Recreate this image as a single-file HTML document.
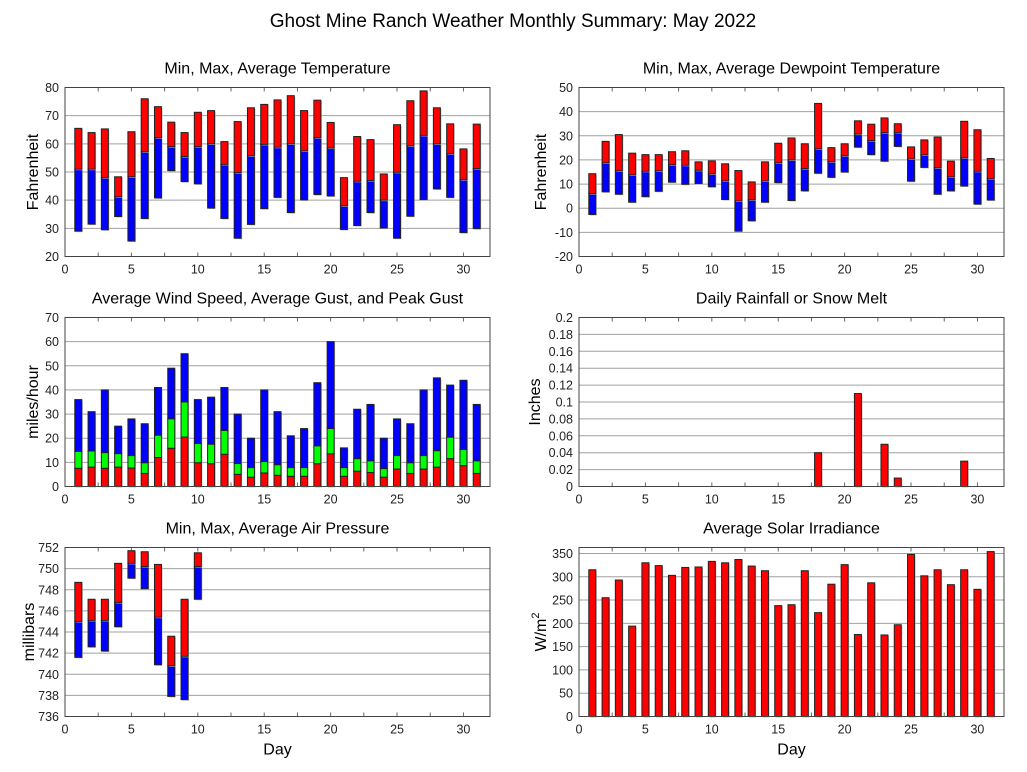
<!DOCTYPE html>
<html><head><meta charset="utf-8"><style>
body{margin:0;background:#fff;}
svg{display:block;font-family:"Liberation Sans",sans-serif;}
</style></head><body>
<svg id="c" width="1027" height="772" viewBox="0 0 1027 772">
<text x="513" y="27" font-size="19" text-anchor="middle">Ghost Mine Ranch Weather Monthly Summary: May 2022</text>
</svg>
<script>
const days = Array.from({length:31},(_,i)=>i+1);
const tempMax=[65.5,64,65.3,48.3,64.3,76,73.2,67.7,64,71.2,71.8,60.8,67.9,72.8,74,75.6,77.1,71.8,75.5,67.6,48,62.6,61.5,49.3,66.8,75.3,78.8,72.8,67.1,58.2,67];
const tempAvg=[51,51,48,41.2,48.3,57.2,62.2,59,55.5,59,60,52.7,49.8,55.8,59.8,58.8,60,57.5,62.2,58.5,38,46.7,47,40,49.9,59.3,63,60,56.5,47.3,51.2];
const tempMin=[29,31.5,29.5,34.2,25.5,33.5,40.8,50.5,46.6,45.8,37.2,33.5,26.5,31.4,37,41,35.6,40.1,42,41.5,29.6,31,35.6,30.1,26.5,34.3,40.2,44,41,28.5,29.9];
const dewMax=[14.3,27.7,30.5,22.8,22.2,22.2,23.4,23.8,19.2,19.6,18.4,15.6,10.9,19.2,26.9,29.1,26.7,43.4,25.1,26.7,36.2,34.8,37.4,35,25.4,28.3,29.5,19.5,36,32.5,20.6];
const dewAvg=[6,18.8,15.5,13.8,15.3,15.5,18,17.8,15.7,14.2,11.3,3,3.5,11.3,18.8,20,16.4,24.6,19.3,21.8,30.7,28,31.3,31.4,20.4,22.1,16.8,13,20.9,15.3,12.2];
const dewMin=[-2.6,6.8,5.8,2.5,4.8,7,10.8,9.9,10.2,8.9,3.6,-9.5,-5.2,2.5,10.6,3.2,7.2,14.5,12.8,15,25.3,22.2,19.5,25.6,11.2,16.9,5.8,7.2,9.2,1.7,3.4];
const peakGust=[36,31,40,25,28,26,41,49,55,36,37,41,30,20,40,31,21,24,43,60,16,32,34,20,28,26,40,45,42,44,34];
const avgGust=[14.5,14.7,14,13.6,12.8,9.8,21.2,28,35,17.8,17.5,23.2,9.5,7.8,10.3,9,7.8,7.8,16.8,24,7.8,11.5,10.6,7.4,12.8,9.8,12.8,14.8,20.4,15.3,10.6];
const avgWind=[7.5,8,7.5,8,7.6,5.4,12,15.8,20.5,9.8,9.4,13.3,5,3.8,5.6,4.6,4.2,4.2,9.4,13.5,4.2,6.3,5.8,3.8,7.2,5.4,7.2,8,11.5,8.6,5.4];
const rainDays=[18,21,23,24,29];
const rainVals=[0.04,0.11,0.05,0.01,0.03];
const presDays=[1,2,3,4,5,6,7,8,9,10];
const presMax=[748.7,747.1,747.1,750.5,751.7,751.6,750.4,743.6,747.1,751.5];
const presAvg=[745,745.1,745.1,746.8,750.5,750.2,745.4,740.8,741.7,750.2];
const presMin=[741.6,742.6,742.2,744.5,749.1,748.1,740.9,737.9,737.6,747.1];
const solar=[315,255,293,194,330,324,303,320,321,333,330,337,323,313,238,240,313,223,284,326,176,287,175,197,348,302,315,283,315,273,354];

const svg=document.getElementById('c');
const NS='http://www.w3.org/2000/svg';
function el(tag,attrs,parent){const e=document.createElementNS(NS,tag);for(const k in attrs)e.setAttribute(k,attrs[k]);(parent||svg).appendChild(e);return e;}

function panel(o){
  const g=el('g',{});
  
  
  const sx=d=>o.x0+(d/32)*(o.x1-o.x0);
  const sy=v=>o.y1-(v-o.ymin)/(o.ymax-o.ymin)*(o.y1-o.y0);
  // grid
  o.ticks.forEach((t,i)=>{
    const y=sy(t);
    if(i>0&&Math.abs(y-o.y0)>1){const l=el('line',{x1:o.x0,x2:o.x1,y1:y,y2:y,stroke:'#a0a0a0','stroke-width':1},g);
    }
    const t2=el('text',{x:o.x0-6,y:y+4.5,'font-size':12.5,'text-anchor':'end',fill:'#222'},g);
    t2.textContent=o.labels[i];
    
  });
  for(let d=0;d<=32;d+=2.5){const x=sx(d);
    el('line',{x1:x,x2:x,y1:o.y1,y2:o.y1-4,stroke:'#666'},g);
    el('line',{x1:x,x2:x,y1:o.y0,y2:o.y0+4,stroke:'#666'},g);}
  [0,5,10,15,20,25,30].forEach(d=>{
    const t=el('text',{x:sx(d),y:o.y1+17,'font-size':12.5,'text-anchor':'middle',fill:'#222'},g);
    t.textContent=d;
    
  });
  const tt=el('text',{x:(o.x0+o.x1)/2,y:o.y0-14,'font-size':16,'text-anchor':'middle'},g);
  tt.textContent=o.title;
  
  const yl=el('text',{x:0,y:0,'font-size':16,'text-anchor':'middle',transform:`translate(${o.ylx},${(o.y0+o.y1)/2}) rotate(-90)`},g);
  if(o.yhtml){yl.innerHTML=o.yhtml;}else yl.textContent=o.ylabel;
  
  if(o.xlabel){const xl=el('text',{x:(o.x0+o.x1)/2,y:o.y1+38,'font-size':16,'text-anchor':'middle'},g);
    xl.textContent='Day';}
  const bars=el('g',{},g);
  
  o.bar=(d,lo,hi,col,name)=>{
    const x=sx(d)-3.5,y=sy(hi),h=sy(lo)-sy(hi);
    el('rect',{x:x+1,y:y+1,width:7,height:h,fill:'#bbb'},bars);
    const r=el('rect',{x:x,y:y,width:7,height:h,fill:col,stroke:'#222','stroke-width':1},bars);
    
  };
  o.frame=()=>{const f=el('rect',{x:o.x0,y:o.y0,width:o.x1-o.x0,height:o.y1-o.y0,fill:'none',stroke:'#444','stroke-width':1},g);
    };
  return o;
}
const R='#ff0000',B='#0000ff',G='#00ff00';
function rng(a,b,s){const r=[];for(let v=a;v<=b+1e-9;v+=s)r.push(+v.toFixed(3));return r;}

// Temperature
let t=rng(20,80,10);
let p=panel({name:'temperature-panel',title:'Min, Max, Average Temperature',x0:65,x1:490,y0:87.5,y1:256.5,ymin:20,ymax:80,ticks:t,labels:t,ylabel:'Fahrenheit',ylx:38});
days.forEach((d,i)=>{p.bar(d,tempMin[i],tempAvg[i],B,'temp-min-avg-bar');p.bar(d,tempAvg[i],tempMax[i],R,'temp-avg-max-bar');});p.frame();
// Dewpoint
t=rng(-20,50,10);
p=panel({name:'dewpoint-panel',title:'Min, Max, Average Dewpoint Temperature',x0:579,x1:1004,y0:87.5,y1:256.5,ymin:-20,ymax:50,ticks:t,labels:t,ylabel:'Fahrenheit',ylx:546});
days.forEach((d,i)=>{p.bar(d,dewMin[i],dewAvg[i],B,'dew-min-avg-bar');p.bar(d,dewAvg[i],dewMax[i],R,'dew-avg-max-bar');});p.frame();
// Wind
t=rng(0,70,10);
p=panel({name:'wind-panel',title:'Average Wind Speed, Average Gust, and Peak Gust',x0:65,x1:490,y0:317.5,y1:486.5,ymin:0,ymax:70,ticks:t,labels:t,ylabel:'miles/hour',ylx:38});
days.forEach((d,i)=>{p.bar(d,avgGust[i],peakGust[i],B,'peak-gust-bar');p.bar(d,avgWind[i],avgGust[i],G,'avg-gust-bar');p.bar(d,0,avgWind[i],R,'avg-wind-bar');});p.frame();
// Rain
t=rng(0,0.2,0.02);
p=panel({name:'rainfall-panel',title:'Daily Rainfall or Snow Melt',x0:579,x1:1004,y0:317.5,y1:486.5,ymin:0,ymax:0.2,ticks:t,labels:t.map(v=>String(v)),ylabel:'Inches',ylx:540});
rainDays.forEach((d,i)=>p.bar(d,0,rainVals[i],R,'rain-bar'));p.frame();
// Pressure
t=rng(736,752,2);
p=panel({name:'pressure-panel',title:'Min, Max, Average Air Pressure',x0:65,x1:490,y0:547.5,y1:716.5,ymin:736,ymax:752,ticks:t,labels:t,ylabel:'millibars',ylx:34,xlabel:true});
presDays.forEach((d,i)=>{p.bar(d,presMin[i],presAvg[i],B,'pres-min-avg-bar');p.bar(d,presAvg[i],presMax[i],R,'pres-avg-max-bar');});p.frame();
// Solar
t=rng(0,350,50);
p=panel({name:'solar-panel',title:'Average Solar Irradiance',x0:579,x1:1004,y0:547.5,y1:716.5,ymin:0,ymax:362.8,ticks:t,labels:t,yhtml:'W/m<tspan dy="-7" font-size="11">2</tspan>',ylx:546,xlabel:true});
days.forEach((d,i)=>p.bar(d,0,solar[i],R,'solar-bar'));p.frame();
</script>
</body></html>
